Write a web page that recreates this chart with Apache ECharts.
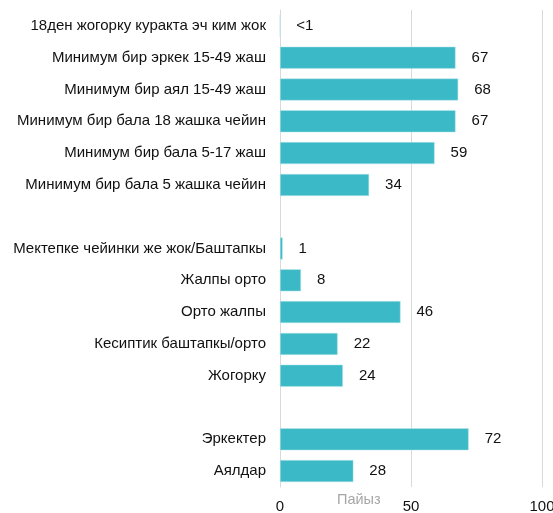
<!DOCTYPE html>
<html>
<head>
<meta charset="utf-8">
<script src="https://cdn.jsdelivr.net/npm/echarts@6/dist/echarts.min.js"></script>
<style>
  html, body { margin: 0; padding: 0; background: #fff; }
  #chart { width: 553px; height: 513px; }
</style>
</head>
<body>
<div id="chart"></div>
<script>
// категориялар (бош саптар - топтордун ортосундагы аралык)
var categories = [
  '18ден жогорку куракта эч ким жок',
  'Минимум бир эркек 15-49 жаш',
  'Минимум бир аял 15-49 жаш',
  'Минимум бир бала 18 жашка чейин',
  'Минимум бир бала 5-17 жаш',
  'Минимум бир бала 5 жашка чейин',
  ' ',
  'Мектепке чейинки же жок/Баштапкы',
  'Жалпы орто',
  'Орто жалпы',
  'Кесиптик баштапкы/орто',
  'Жогорку',
  '  ',
  'Эркектер',
  'Аялдар'
];
var values = [0, 67, 68, 67, 59, 34, null, 1, 8, 46, 22, 24, null, 72, 28];
var valueLabels = ['<1', '67', '68', '67', '59', '34', '', '1', '8', '46', '22', '24', '', '72', '28'];
var xTicks = [0, 50, 100];

var chart = echarts.init(document.getElementById('chart'));

var option = {
  animation: false,
  textStyle: { fontFamily: 'Liberation Sans' },
  grid: { left: 280, right: 11, top: 10, bottom: 26, containLabel: false, outerBoundsMode: 'none' },
  xAxis: {
    type: 'value',
    min: xTicks[0],
    max: xTicks[xTicks.length - 1],
    interval: xTicks[1] - xTicks[0],
    axisLine: { show: false },
    axisTick: { show: false },
    axisLabel: { color: '#111', fontSize: 15, margin: 12 },
    splitLine: { lineStyle: { color: '#d9d9d9', width: 1 } }
  },
  yAxis: {
    type: 'category',
    inverse: true,
    data: categories,
    axisLine: { show: true, lineStyle: { color: '#d9d9d9', width: 1 } },
    axisTick: { show: false },
    axisLabel: { color: '#111', fontSize: 15, margin: 14 }
  },
  graphic: [{
    type: 'text',
    left: 337,
    top: 492,
    style: { text: 'Пайыз', fill: '#a6a6a6', fontSize: 14.5, fontFamily: 'Liberation Sans' }
  }],
  series: [{
    type: 'bar',
    data: values,
    barWidth: 22,
    itemStyle: { color: '#3cb9c6', borderColor: '#b8e6eb', borderWidth: 0.5 },
    label: {
      show: true,
      position: 'right',
      distance: 16,
      color: '#111',
      fontSize: 15,
      formatter: function (p) { return valueLabels[p.dataIndex]; }
    }
  }]
};

chart.setOption(option);
</script>
</body>
</html>
